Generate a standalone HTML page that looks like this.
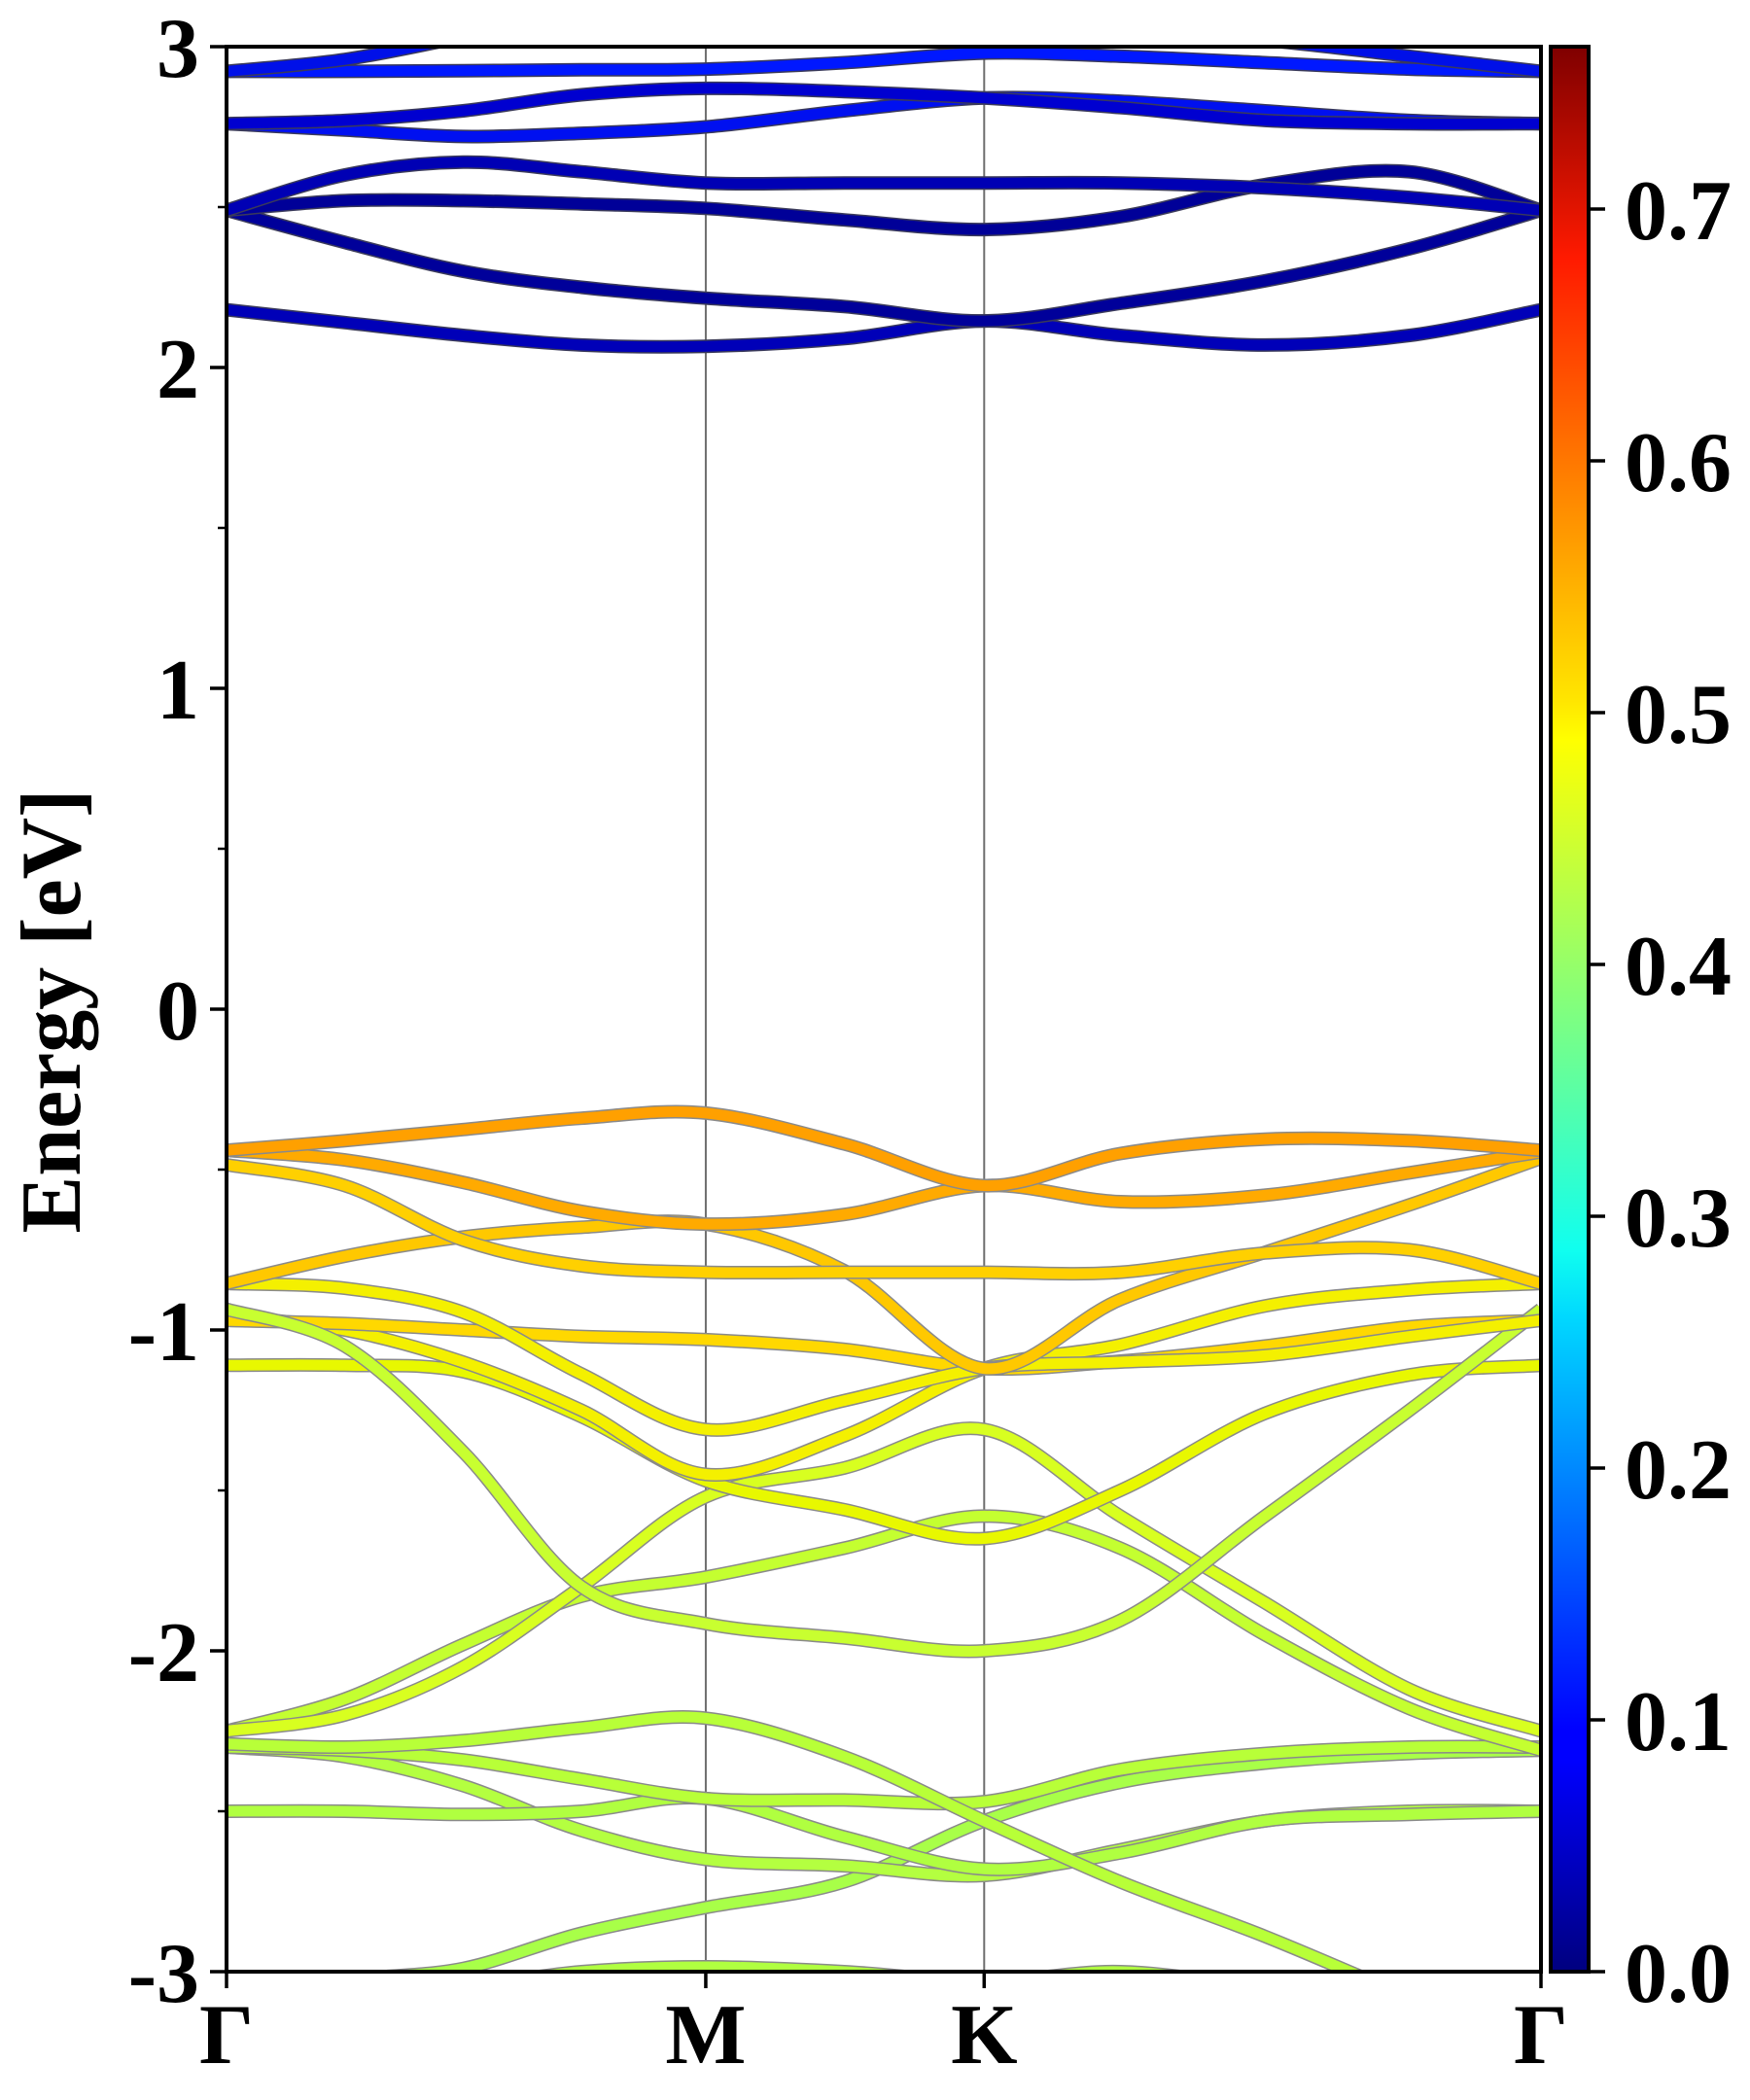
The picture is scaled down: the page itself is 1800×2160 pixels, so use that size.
<!DOCTYPE html>
<html><head><meta charset="utf-8"><style>
html,body{margin:0;padding:0;background:#fff;}
svg{display:block;}
text{font-family:"Liberation Serif","Times New Roman",serif;font-weight:bold;}
</style></head><body>
<svg id="chart" width="1800" height="2160" viewBox="0 0 1800 2160" xmlns="http://www.w3.org/2000/svg">
<defs>
<linearGradient id="jet" x1="0" y1="1" x2="0" y2="0">
<stop offset="0" stop-color="#00007f"/><stop offset="0.11" stop-color="#0000ff"/><stop offset="0.125" stop-color="#0000ff"/><stop offset="0.34" stop-color="#00d8ff"/><stop offset="0.375" stop-color="#10ffef"/><stop offset="0.64" stop-color="#ffff00"/><stop offset="0.66" stop-color="#ffe600"/><stop offset="0.89" stop-color="#ff1a00"/><stop offset="1" stop-color="#7f0000"/>
</linearGradient>
<clipPath id="plotclip"><rect x="233" y="48" width="1352" height="1980"/></clipPath>
</defs>
<g id="bands" clip-path="url(#plotclip)"></g>
<g id="axes"></g>
</svg>
<script>
// k-path sample positions (fraction of path)
const kPoints = [0, 0.09, 0.18, 0.27, 0.3646, 0.47, 0.5764, 0.68, 0.79, 0.9, 1.0];
const kLabels = ["Γ", "M", "K", "Γ"];
const kLabelPos = [0, 0.3646, 0.5764, 1.0];
const yTicks = [-3, -2, -1, 0, 1, 2, 3];
const cbTicks = [0.0, 0.1, 0.2, 0.3, 0.4, 0.5, 0.6, 0.7];
// conduction bands (eV)
const bandC1 = [2.18, 2.14, 2.10, 2.07, 2.066, 2.09, 2.145, 2.10, 2.07, 2.10, 2.18];
const bandC2 = [2.49, 2.39, 2.30, 2.25, 2.216, 2.19, 2.145, 2.20, 2.27, 2.37, 2.49];
const bandC3 = [2.49, 2.52, 2.52, 2.51, 2.496, 2.46, 2.43, 2.47, 2.57, 2.61, 2.49];
const bandC4 = [2.49, 2.60, 2.64, 2.61, 2.575, 2.575, 2.575, 2.575, 2.56, 2.53, 2.49];
const bandC5 = [2.76, 2.74, 2.72, 2.73, 2.75, 2.80, 2.84, 2.83, 2.80, 2.77, 2.76];
const bandC6 = [2.76, 2.77, 2.80, 2.85, 2.87, 2.86, 2.84, 2.81, 2.77, 2.76, 2.76];
const bandC7 = [2.923, 2.923, 2.925, 2.928, 2.93, 2.95, 2.98, 2.97, 2.95, 2.93, 2.923];
const bandC8 = [2.923, 2.96, 3.03, 3.10, 3.15, 3.12, 3.08, 3.05, 3.02, 2.97, 2.923];
// valence bands (eV)
const bandA = [-0.44, -0.41, -0.375, -0.34, -0.324, -0.42, -0.55, -0.45, -0.405, -0.41, -0.44];
const bandB = [-0.44, -0.47, -0.54, -0.63, -0.67, -0.64, -0.55, -0.60, -0.58, -0.51, -0.445];
const bandC = [-0.485, -0.55, -0.72, -0.80, -0.82, -0.82, -0.82, -0.82, -0.76, -0.75, -0.855];
const bandD = [-0.855, -0.77, -0.71, -0.68, -0.67, -0.815, -1.12, -0.905, -0.758, -0.61, -0.465];
const bandE = [-0.855, -0.87, -0.945, -1.137, -1.31, -1.22, -1.12, -1.10, -1.08, -1.02, -0.97];
const bandF = [-0.935, -1.05, -1.38, -1.80, -1.915, -1.96, -2.00, -1.905, -1.58, -1.25, -0.935];
const bandG = [-0.97, -0.98, -1.00, -1.02, -1.03, -1.06, -1.12, -1.097, -1.05, -0.99, -0.97];
const bandH = [-0.955, -1.00, -1.10, -1.25, -1.45, -1.33, -1.12, -1.046, -0.925, -0.875, -0.855];
const bandI = [-1.11, -1.11, -1.13, -1.27, -1.47, -1.56, -1.65, -1.50, -1.26, -1.14, -1.11];
const bandJ = [-2.25, -2.20, -2.05, -1.80, -1.52, -1.43, -1.31, -1.58, -1.85, -2.12, -2.25];
const bandK = [-2.25, -2.15, -1.98, -1.83, -1.77, -1.68, -1.58, -1.68, -1.95, -2.18, -2.31];
const bandL1 = [-2.29, -2.30, -2.28, -2.24, -2.21, -2.33, -2.53, -2.72, -2.89, -3.08, -3.25];
const bandL2 = [-2.30, -2.31, -2.34, -2.40, -2.46, -2.465, -2.47, -2.37, -2.32, -2.30, -2.30];
const bandL3 = [-2.50, -2.50, -2.51, -2.50, -2.46, -2.58, -2.68, -2.63, -2.53, -2.51, -2.50];
const bandL4 = [-2.30, -2.33, -2.42, -2.56, -2.65, -2.67, -2.70, -2.62, -2.53, -2.50, -2.50];
const bandL6 = [-3.12, -3.03, -2.99, -2.88, -2.80, -2.72, -2.53, -2.41, -2.35, -2.32, -2.31];
const bandL7 = [-3.15, -3.10, -3.05, -3.00, -2.985, -3.00, -3.03, -3.00, -3.05, -3.10, -3.15];
const bandList = [bandC1, bandC2, bandC3, bandC4, bandC5, bandC6, bandC7, bandC8,
  bandL7, bandL6, bandL4, bandL3, bandL2, bandL1, bandK, bandJ, bandI, bandH, bandG, bandF, bandE, bandD, bandC, bandB, bandA];
const bandNames = ["c1","c2","c3","c4","c5","c6","c7","c8","v-l7","v-l6","v-l4","v-l3","v-l2","v-l1","v-k","v-j","v-i","v-h","v-g","v-f","v-e","v-d","v-c","v-b","v-a"];
const bandColors = ["#0000b8","#00009a","#000098","#0000b4","#0010f0","#0000d0","#0018ff","#0010e8",
  "#b0ff40","#a8ff48","#b4ff40","#b0ff40","#b8ff38","#b8ff38","#c4ff30","#d8ff20","#e8f800","#f4f000","#ffd800","#c8ff30","#f4f000","#ffc800","#ffd000","#ffaa00","#ffa000"];

const X0 = 233, X1 = 1585, Y0 = 48, Y1 = 2028, EMIN = -3, EMAX = 3;
const xs = k => X0 + k * (X1 - X0);
const ys = e => Y0 + (EMAX - e) / (EMAX - EMIN) * (Y1 - Y0);
const NS = "http://www.w3.org/2000/svg";
const FONT = '"Liberation Serif", "Times New Roman", serif';
const bandsG = document.getElementById('bands');
const axesG = document.getElementById('axes');

function mk(tag, attrs, parent) {
  const el = document.createElementNS(NS, tag);
  for (const a in attrs) el.setAttribute(a, attrs[a]);
  if (tag === 'text') { el.setAttribute('font-family', FONT); el.setAttribute('font-weight', 'bold'); }
  parent.appendChild(el);
  return el;
}
function pathFor(vals) {
  const p = kPoints.map((k, i) => [xs(k), ys(vals[i])]);
  let d = "M" + p[0][0].toFixed(1) + "," + p[0][1].toFixed(1);
  for (let i = 0; i < p.length - 1; i++) {
    const p0 = p[Math.max(0, i - 1)], p1 = p[i], p2 = p[i + 1], p3 = p[Math.min(p.length - 1, i + 2)];
    const c1 = [p1[0] + (p2[0] - p0[0]) / 6, p1[1] + (p2[1] - p0[1]) / 6];
    const c2 = [p2[0] - (p3[0] - p1[0]) / 6, p2[1] - (p3[1] - p1[1]) / 6];
    d += " C" + c1[0].toFixed(1) + "," + c1[1].toFixed(1) + " " + c2[0].toFixed(1) + "," + c2[1].toFixed(1) + " " + p2[0].toFixed(1) + "," + p2[1].toFixed(1);
  }
  return d;
}
[kLabelPos[1], kLabelPos[2]].forEach((k, i) => {
  const ln = mk('line', {x1: xs(k), x2: xs(k), y1: Y0, y2: Y1, stroke: '#6e6e6e', 'stroke-width': 2}, bandsG);
  
  
});
bandList.forEach((vals, i) => {
  const d = pathFor(vals);
  const cond = i < 8;
  const o = mk('path', {d: d, fill: 'none', stroke: cond ? '#3a3a5a' : '#8a8a8a', 'stroke-width': 14, 'stroke-linecap': 'butt'}, bandsG);
  
  
  const l = mk('path', {d: d, fill: 'none', stroke: bandColors[i], 'stroke-width': 11, 'stroke-linecap': 'butt'}, bandsG);
  
  
});
const fr = mk('rect', {x: X0, y: Y0, width: X1 - X0, height: Y1 - Y0, fill: 'none', stroke: '#000', 'stroke-width': 4}, axesG);


yTicks.forEach(v => {
  const t = mk('line', {x1: X0 - 17, x2: X0, y1: ys(v), y2: ys(v), stroke: '#000', 'stroke-width': 3.5}, axesG);
  
  
  const tx = mk('text', {x: X0 - 28, y: ys(v) + 31, 'text-anchor': 'end', 'font-size': 88}, axesG);
  tx.textContent = String(v);
  
  
});
for (let v = -2.5; v < 3; v += 1) {
  const t = mk('line', {x1: X0 - 9, x2: X0, y1: ys(v), y2: ys(v), stroke: '#000', 'stroke-width': 2.5}, axesG);
  
  
}
kLabelPos.forEach((k, i) => {
  const t = mk('line', {x1: xs(k), x2: xs(k), y1: Y1, y2: Y1 + 17, stroke: '#000', 'stroke-width': 3.5}, axesG);
  
  
  const tx = mk('text', {x: xs(k), y: 2122, 'text-anchor': 'middle', 'font-size': 88}, axesG);
  tx.textContent = kLabels[i];
  
  
});
const yt = mk('text', {x: 0, y: 0, 'text-anchor': 'middle', 'font-size': 88, transform: 'translate(82,1040) rotate(-90)'}, axesG);
yt.textContent = 'Energy [eV]';


const CB0 = 1595, CB1 = 1634, CBMAX = 0.7645;
const cbs = v => Y1 - v / CBMAX * (Y1 - Y0);
const cb = mk('rect', {x: CB0, y: Y0, width: CB1 - CB0, height: Y1 - Y0, fill: 'url(#jet)', stroke: '#000', 'stroke-width': 4}, axesG);


cbTicks.forEach(v => {
  const t = mk('line', {x1: CB1, x2: CB1 + 17, y1: cbs(v), y2: cbs(v), stroke: '#000', 'stroke-width': 3.5}, axesG);
  
  
  const tx = mk('text', {x: 1671, y: cbs(v) + 31, 'font-size': 88}, axesG);
  tx.textContent = v.toFixed(1);
  
  
});
</script>
</body></html>
